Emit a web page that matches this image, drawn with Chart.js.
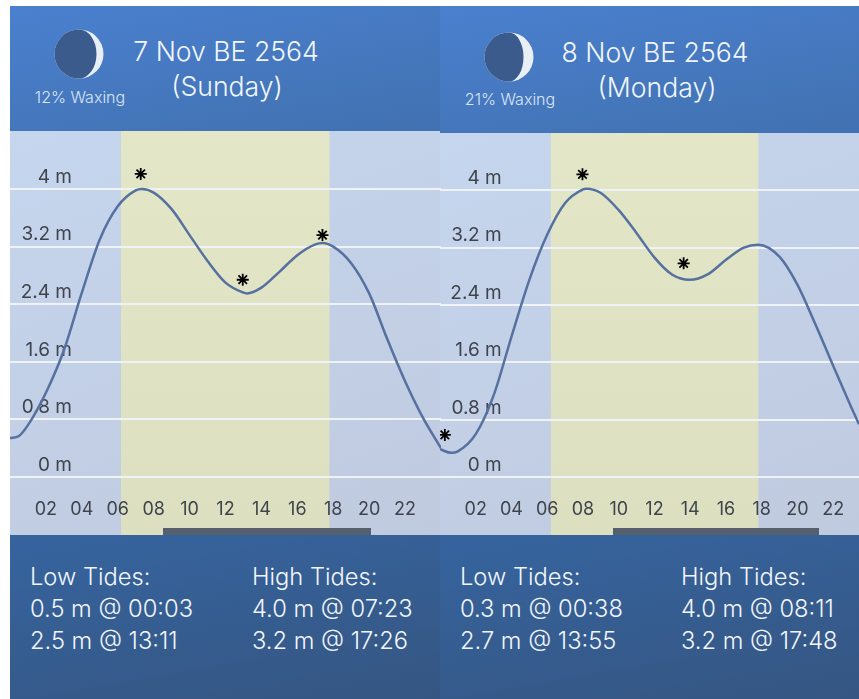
<!DOCTYPE html>
<html>
<head>
<meta charset="utf-8">
<script src="https://cdn.jsdelivr.net/npm/chart.js@4/dist/chart.umd.min.js"></script>
<style>
html, body { margin: 0; padding: 0; background: #fff; overflow: hidden; }
body { width: 859px; height: 699px; position: relative; font-family: Inter, "Open Sans", sans-serif; }
.box { position: absolute; }
.head { background: linear-gradient(170deg, #4a80cf, #4171b0); }
.plot { background: linear-gradient(160deg, #c5d6ee, #c0cadf); }
.foot { background: linear-gradient(170deg, #36649f, #355682); }
.txt { position: absolute; color: #f2f6fb; white-space: nowrap; font-weight: 300; line-height: 1; }
.title { font-size: 26.6px; transform: translateX(-50%); }
.moonlabel { font-size: 16px; color: #dbe6f6; transform: translateX(-50%); }
.tide { font-size: 23.7px; }
.bar { position: absolute; background: #565f6d; }
canvas { position: absolute; }
</style>
</head>
<body>
<div class="box head" style="left:10px;top:6px;width:430px;height:125px"></div>
<div class="box plot" style="left:10px;top:131px;width:431px;height:404px"></div>
<div class="box foot" style="left:10px;top:535px;width:430px;height:164px"></div>
<div class="box head" style="left:440px;top:6px;width:419px;height:127px"></div>
<div class="box plot" style="left:440px;top:133px;width:419px;height:402px"></div>
<div class="box foot" style="left:440px;top:535px;width:419px;height:164px"></div>

<canvas id="day1" width="431" height="404" style="left:10px;top:131px"></canvas>
<canvas id="day2" width="419" height="402" style="left:440px;top:133px"></canvas>

<div class="bar" style="left:163px;top:528px;width:208px;height:7px"></div>
<div class="bar" style="left:613px;top:528px;width:206px;height:7px"></div>

<svg class="box" style="left:54px;top:29px" width="50" height="50">
  <circle cx="25" cy="25" r="24.5" fill="#e9eff7"/>
  <path d="M25 .5A24.5 24.5 0 0 0 25 49.5A17.5 24.5 0 0 0 25 .5Z" fill="#3b5b8c"/>
</svg>
<svg class="box" style="left:484px;top:32px" width="50" height="50">
  <circle cx="25" cy="25" r="24.5" fill="#e9eff7"/>
  <path d="M25 .5A24.5 24.5 0 0 0 25 49.5A14.5 24.5 0 0 0 25 .5Z" fill="#3b5b8c"/>
</svg>

<div class="txt moonlabel" style="left:80px;top:89px">12% Waxing</div>
<div class="txt title" style="left:226px;top:38px">7 Nov BE 2564</div>
<div class="txt title" style="left:227px;top:73px">(Sunday)</div>
<div class="txt moonlabel" style="left:510px;top:91px">21% Waxing</div>
<div class="txt title" style="left:655px;top:39px">8 Nov BE 2564</div>
<div class="txt title" style="left:657px;top:74px">(Monday)</div>

<div class="txt tide" style="left:30px;top:565px">Low Tides:</div>
<div class="txt tide" style="left:30px;top:597px">0.5 m @ 00:03</div>
<div class="txt tide" style="left:30px;top:629px">2.5 m @ 13:11</div>
<div class="txt tide" style="left:252px;top:565px">High Tides:</div>
<div class="txt tide" style="left:252px;top:597px">4.0 m @ 07:23</div>
<div class="txt tide" style="left:252px;top:629px">3.2 m @ 17:26</div>
<div class="txt tide" style="left:460px;top:565px">Low Tides:</div>
<div class="txt tide" style="left:460px;top:597px">0.3 m @ 00:38</div>
<div class="txt tide" style="left:460px;top:629px">2.7 m @ 13:55</div>
<div class="txt tide" style="left:681px;top:565px">High Tides:</div>
<div class="txt tide" style="left:681px;top:597px">4.0 m @ 08:11</div>
<div class="txt tide" style="left:681px;top:629px">3.2 m @ 17:48</div>

<script>
const yTicks = [0, 0.8, 1.6, 2.4, 3.2, 4];
const xTicks = [2, 4, 6, 8, 10, 12, 14, 16, 18, 20, 22];

// 7 Nov
const hours1 = [0, 0.5, 1, 2, 3, 4, 5, 6, 7, 7.34, 8, 9, 10, 11, 12, 13, 13.19, 14, 15, 16, 17, 17.4, 18, 19, 20, 21, 22, 23, 24];
const levels1 = [0.54, 0.57, 0.72, 1.17, 1.76, 2.56, 3.3, 3.76, 3.98, 4.0, 3.95, 3.72, 3.36, 3.0, 2.7, 2.56, 2.55, 2.63, 2.85, 3.08, 3.23, 3.25, 3.2, 2.97, 2.55, 1.92, 1.33, 0.82, 0.4];
const starHours1 = [7.28, 12.96, 17.4];
const starLevels1 = [4.21, 2.74, 3.36];
const daylight1 = [6.18, 17.79];

// 8 Nov
const hours2 = [0, 0.64, 1, 2, 3, 4, 5, 6, 7, 8, 8.19, 9, 10, 11, 12, 13, 13.97, 15, 16, 17, 17.8, 19, 20, 21, 22, 23, 23.44];
const levels2 = [0.39, 0.34, 0.36, 0.6, 1.14, 1.96, 2.75, 3.38, 3.82, 4.01, 4.02, 3.96, 3.72, 3.4, 3.06, 2.82, 2.75, 2.83, 3.03, 3.2, 3.24, 3.07, 2.68, 2.13, 1.55, 0.98, 0.74];
const starHours2 = [0.27, 7.97, 13.63];
const starLevels2 = [0.59, 4.22, 2.98];
const daylight2 = [6.2, 17.81];

// pale yellow band behind the grid
const daylightPlugin = {
    id: 'daylight',
    beforeDraw(chart, args, opts) {
        const { ctx, chartArea, scales } = chart;
        const a = scales.x.getPixelForValue(opts.hours[0]);
        const b = scales.x.getPixelForValue(opts.hours[1]);
        const g = ctx.createLinearGradient(0, chartArea.top, 0, chartArea.bottom);
        g.addColorStop(0, '#e3e7c8');
        g.addColorStop(1, '#dcdfc0');
        ctx.save();
        ctx.fillStyle = g;
        ctx.fillRect(a, chartArea.top, b - a, chartArea.bottom - chartArea.top);
        ctx.restore();
    }
};

// axes sit inside the plot, so they must not take any room from it
function noPadding(s) {
    s.paddingTop = 0;
    s.paddingBottom = 0;
    s.paddingLeft = 0;
    s.paddingRight = 0;
}

function drawDay(id, hours, levels, starHours, starLevels, daylight, xMax, yMin, yMax) {
    new Chart(document.getElementById(id), {
        type: 'line',
        data: {
            datasets: [{
                data: hours.map((h, i) => ({ x: h, y: levels[i] })),
                borderColor: '#56719f',
                borderWidth: 2.5,
                pointRadius: 0,
                cubicInterpolationMode: 'monotone'
            }, {
                data: starHours.map((h, i) => ({ x: h, y: starLevels[i] })),
                showLine: false,
                pointStyle: 'star',
                pointRadius: 6,
                pointBorderColor: '#000',
                pointBorderWidth: 1.8
            }]
        },
        options: {
            responsive: false,
            animation: false,
            layout: { padding: 0, autoPadding: false },
            plugins: {
                legend: { display: false },
                tooltip: { enabled: false },
                daylight: { hours: daylight }
            },
            scales: {
                x: {
                    type: 'linear',
                    min: 0,
                    max: xMax,
                    position: { y: -0.19 },
                    afterBuildTicks: s => { s.ticks = xTicks.map(v => ({ value: v })); },
                    afterFit: noPadding,
                    grid: { display: false },
                    border: { display: false },
                    ticks: {
                        autoSkip: false,
                        maxRotation: 0,
                        padding: 0,
                        color: '#3f444c',
                        font: { family: 'Inter', size: 18 },
                        callback: v => String(v).padStart(2, '0')
                    }
                },
                y: {
                    min: yMin,
                    max: yMax,
                    position: { x: 3.45 },
                    afterBuildTicks: s => { s.ticks = yTicks.map(v => ({ value: v })); },
                    afterFit: noPadding,
                    grid: { color: '#eff3f7', lineWidth: 2, drawTicks: false },
                    border: { display: false },
                    ticks: {
                        autoSkip: false,
                        padding: 0,
                        labelOffset: -12,
                        color: '#3f444c',
                        font: { family: 'Inter', size: 19 },
                        callback: v => v + ' m'
                    }
                }
            }
        },
        plugins: [daylightPlugin]
    });
}

drawDay('day1', hours1, levels1, starHours1, starLevels1, daylight1, 24, -0.806, 4.806);
drawDay('day2', hours2, levels2, starHours2, starLevels2, daylight2, 23.44, -0.804, 4.795);
</script>
</body>
</html>
